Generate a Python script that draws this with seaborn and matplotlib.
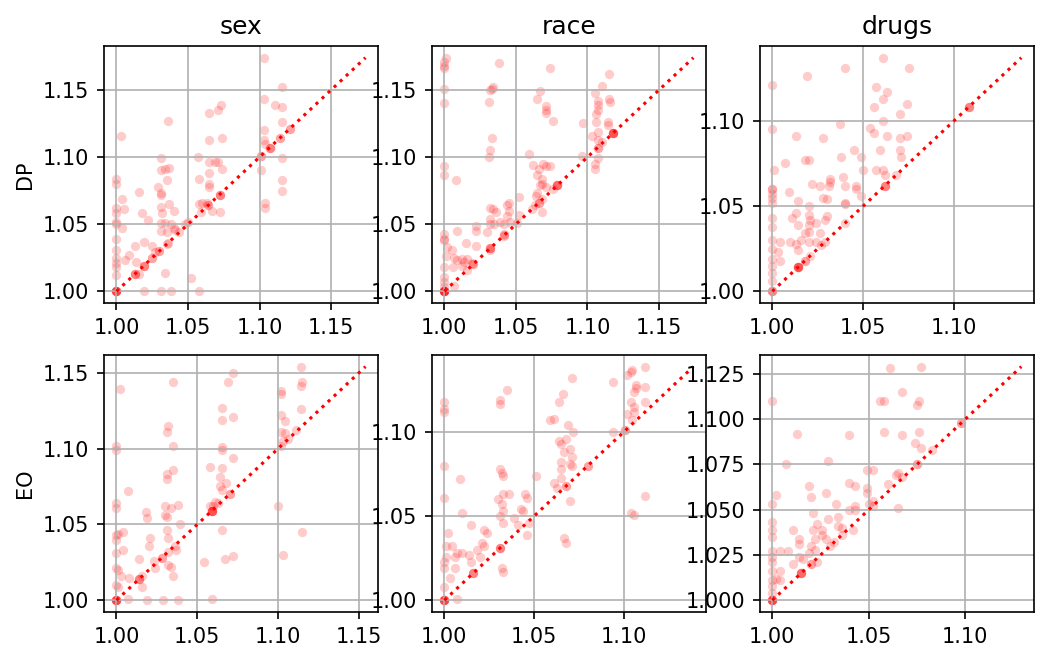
import matplotlib
matplotlib.use('Agg')
import matplotlib.pyplot as plt
from matplotlib.ticker import MultipleLocator
import seaborn as sns

cols = ['sex', 'race', 'drugs']
rows = ['DP', 'EO']

# ---- DP / sex
sex_dp_x = [1.103, 1.116, 1.103, 1.111, 1.116, 1.073, 1.071, 1.065, 1.036, 1.003, 1.065, 1.074, 1.103, 1.116,
            1.103, 1.104, 1.116, 1.101, 1.116, 1.116, 1.104, 1.104, 1.031, 1.031, 1.034, 1.037, 1.035, 1.029,
            1.031, 1.031, 1.016, 1.004, 1.0, 1.0, 1.0, 1.0, 1.0, 1.0, 1.0, 1.0, 1.0, 1.0, 1.0, 1.0,
            1.005, 1.004, 1.057, 1.065, 1.069, 1.071, 1.074, 1.065, 1.058, 1.065, 1.065, 1.072, 1.067, 1.060,
            1.058, 1.052, 1.058, 1.019, 1.031, 1.038, 1.034, 1.040, 1.037, 1.031, 1.032, 1.031, 1.034, 1.018,
            1.022, 1.038, 1.040, 1.031, 1.035, 1.019, 1.013, 1.025, 1.009, 1.006, 1.014, 1.016, 1.050, 1.048,
            1.041, 1.027, 1.035, 1.063,
            1.0, 1.0, 1.0, 1.0, 1.0, 1.0, 1.013, 1.013, 1.013, 1.019, 1.019, 1.019, 1.025, 1.025, 1.030, 1.030,
            1.036, 1.044, 1.059, 1.064, 1.064, 1.072, 1.072, 1.072, 1.101, 1.101, 1.107, 1.107, 1.107,
            1.114, 1.114, 1.121, 1.121]
sex_dp_y = [1.174, 1.152, 1.143, 1.139, 1.137, 1.139, 1.135, 1.133, 1.127, 1.116, 1.113, 1.114, 1.120, 1.126,
            1.113, 1.110, 1.099, 1.090, 1.083, 1.075, 1.066, 1.062, 1.099, 1.090, 1.091, 1.092, 1.083, 1.078,
            1.073, 1.072, 1.074, 1.069, 1.084, 1.080, 1.062, 1.058, 1.052, 1.050, 1.039, 1.031, 1.025, 1.021, 1.018, 1.012,
            1.061, 1.047, 1.100, 1.096, 1.096, 1.096, 1.091, 1.088, 1.084, 1.080, 1.078, 1.059, 1.060, 1.066,
            1.065, 1.010, 1.000, 1.000, 1.000, 1.000, 1.014, 1.060, 1.065, 1.063, 1.058, 1.051, 1.051, 1.058,
            1.053, 1.050, 1.047, 1.045, 1.044, 1.037, 1.034, 1.034, 1.027, 1.023, 1.022, 1.013, 1.052, 1.050,
            1.046, 1.029, 1.035, 1.066,
            1.0, 1.0, 1.0, 1.0, 1.0, 1.0, 1.013, 1.013, 1.013, 1.019, 1.019, 1.019, 1.025, 1.025, 1.030, 1.030,
            1.036, 1.044, 1.059, 1.064, 1.064, 1.072, 1.072, 1.072, 1.101, 1.101, 1.107, 1.107, 1.107,
            1.114, 1.114, 1.121, 1.121]

# ---- DP / race
race_dp_x = [1.001, 1.0, 1.0, 1.0, 1.038, 1.074, 1.115, 1.110, 1.0, 1.0, 1.033, 1.034, 1.032, 1.031,
             1.067, 1.065, 1.071, 1.071, 1.071, 1.076, 1.105, 1.107, 1.107, 1.107, 1.106, 1.106, 1.115, 1.116,
             1.097, 1.114, 1.114, 1.107, 1.103, 1.107, 1.110, 1.107, 1.105, 1.105, 1.096, 1.033, 1.032, 1.031,
             1.0, 1.0, 1.008, 1.059, 1.062, 1.069, 1.071, 1.074, 1.066, 1.065, 1.068, 1.067, 1.068, 1.071,
             1.065, 1.064, 1.068, 1.063, 1.068, 1.052, 1.045, 1.044, 1.045, 1.044, 1.046, 1.032, 1.034, 1.036,
             1.032, 1.032, 1.035, 1.039, 1.042, 1.052, 1.022, 1.022, 1.030, 1.009, 1.015, 1.022,
             1.0, 1.0, 1.0, 1.0, 1.0, 1.0, 1.0, 1.002, 1.005, 1.001, 1.007, 1.012, 1.016, 1.006, 1.012, 1.007,
             1.032, 1.042, 1.042, 1.009, 1.014, 1.019,
             1.0, 1.0, 1.0, 1.0, 1.0, 1.0, 1.0, 1.0, 1.016, 1.020, 1.020, 1.032, 1.032, 1.032, 1.042, 1.051,
             1.061, 1.066, 1.066, 1.076, 1.079, 1.079, 1.079, 1.079, 1.107, 1.107,
             1.118, 1.118, 1.118, 1.118, 1.118]
race_dp_y = [1.174, 1.171, 1.168, 1.166, 1.170, 1.166, 1.162, 1.153, 1.151, 1.140, 1.151, 1.152, 1.150, 1.141,
             1.149, 1.143, 1.138, 1.135, 1.133, 1.127, 1.148, 1.142, 1.139, 1.135, 1.132, 1.126, 1.143, 1.141,
             1.125, 1.126, 1.124, 1.119, 1.116, 1.113, 1.111, 1.099, 1.095, 1.091, 1.101, 1.114, 1.105, 1.100,
             1.093, 1.087, 1.083, 1.102, 1.094, 1.095, 1.093, 1.093, 1.091, 1.087, 1.084, 1.079, 1.080, 1.078,
             1.073, 1.071, 1.069, 1.064, 1.059, 1.070, 1.066, 1.064, 1.060, 1.056, 1.052, 1.062, 1.061, 1.059,
             1.054, 1.050, 1.050, 1.052, 1.050, 1.057, 1.049, 1.045, 1.044, 1.045, 1.036, 1.034,
             1.043, 1.039, 1.038, 1.018, 1.011, 1.007, 1.003, 1.033, 1.031, 1.026, 1.025, 1.024, 1.024, 1.018, 1.019, 1.004,
             1.031, 1.043, 1.041, 1.023, 1.022, 1.021,
             1.0, 1.0, 1.0, 1.0, 1.0, 1.0, 1.0, 1.0, 1.016, 1.020, 1.020, 1.032, 1.032, 1.032, 1.042, 1.051,
             1.061, 1.066, 1.066, 1.076, 1.079, 1.079, 1.079, 1.079, 1.107, 1.107,
             1.118, 1.118, 1.118, 1.118, 1.118]

# ---- DP / drugs
drugs_dp_x = [1.061, 1.040, 1.075, 1.019, 1.0, 1.057, 1.063, 1.061, 1.056, 1.074, 1.070, 1.061, 1.037, 1.054,
              1.056, 1.063, 1.070, 1.074, 1.013, 1.028, 1.0, 1.045, 1.049, 1.059, 1.070, 1.071, 1.018, 1.020,
              1.038, 1.007, 1.001, 1.050, 1.057, 1.061, 1.062, 1.039, 1.032, 1.032, 1.022, 1.026, 1.031, 1.040,
              1.046, 1.046, 1.049, 1.009, 1.028, 1.030, 1.014,
              1.0, 1.0, 1.0, 1.0, 1.0, 1.0, 1.0, 1.0, 1.0, 1.0, 1.0, 1.0, 1.0,
              1.040, 1.040, 1.020, 1.013, 1.020, 1.030, 1.029, 1.021, 1.024, 1.020, 1.014, 1.011, 1.004, 1.003,
              1.004, 1.010, 1.014, 1.013, 1.016, 1.018, 1.020, 1.026, 1.020, 1.024,
              1.0, 1.0, 1.0, 1.014, 1.014, 1.014, 1.014, 1.014, 1.018, 1.018, 1.021, 1.027, 1.029, 1.040,
              1.062, 1.062, 1.062, 1.068, 1.108, 1.108, 1.108]
drugs_dp_y = [1.137, 1.131, 1.131, 1.126, 1.121, 1.120, 1.117, 1.113, 1.108, 1.110, 1.104, 1.100, 1.098, 1.096,
              1.093, 1.091, 1.090, 1.091, 1.091, 1.090, 1.095, 1.083, 1.079, 1.083, 1.083, 1.079, 1.077, 1.077,
              1.079, 1.075, 1.071, 1.071, 1.071, 1.071, 1.068, 1.067, 1.066, 1.064, 1.063, 1.062, 1.062, 1.062,
              1.062, 1.060, 1.056, 1.058, 1.055, 1.054, 1.053,
              1.060, 1.060, 1.057, 1.055, 1.052, 1.043, 1.038, 1.030, 1.025, 1.019, 1.015, 1.011, 1.006,
              1.052, 1.051, 1.050, 1.046, 1.045, 1.044, 1.042, 1.042, 1.040, 1.039, 1.039, 1.043, 1.029, 1.023,
              1.018, 1.029, 1.024, 1.028, 1.030, 1.034, 1.035, 1.034, 1.029, 1.029,
              1.0, 1.0, 1.0, 1.014, 1.014, 1.014, 1.014, 1.014, 1.018, 1.018, 1.021, 1.027, 1.029, 1.040,
              1.062, 1.062, 1.062, 1.068, 1.108, 1.108, 1.108]

# ---- EO / sex
sex_eo_x = [1.114, 1.072, 1.115, 1.114, 1.069, 1.035, 1.002, 1.102, 1.102, 1.114, 1.065, 1.065, 1.072, 1.102,
            1.104, 1.102, 1.104, 1.103, 1.111, 1.032, 1.031, 1.035, 1.0, 1.0, 1.065, 1.065, 1.072, 1.058,
            1.065, 1.064, 1.068, 1.064, 1.065, 1.035, 1.031, 1.031, 1.007, 1.0, 1.0, 1.100, 1.030, 1.034,
            1.038, 1.030, 1.031, 1.018, 1.019, 1.065, 1.115, 1.039, 1.031, 1.032, 1.021, 1.020, 1.037, 1.0,
            1.001, 1.0, 1.004, 1.004, 1.0, 1.014, 1.023, 1.032, 1.034, 1.035, 1.024, 1.072, 1.067, 1.103,
            1.054, 1.0, 1.001, 1.003, 1.0, 1.001, 1.008, 1.016, 1.007, 1.019, 1.029, 1.038, 1.059,
            1.060, 1.061, 1.063, 1.058,
            1.0, 1.0, 1.0, 1.0, 1.0, 1.0, 1.014, 1.014, 1.014, 1.016, 1.028, 1.028, 1.032, 1.036,
            1.059, 1.059, 1.059, 1.059, 1.059, 1.070, 1.070, 1.102, 1.106]
sex_eo_y = [1.154, 1.150, 1.144, 1.141, 1.144, 1.144, 1.139, 1.138, 1.136, 1.126, 1.127, 1.119, 1.121, 1.122,
            1.118, 1.111, 1.110, 1.105, 1.112, 1.115, 1.111, 1.102, 1.102, 1.099, 1.101, 1.099, 1.094, 1.088,
            1.087, 1.081, 1.077, 1.075, 1.073, 1.086, 1.083, 1.080, 1.072, 1.064, 1.061, 1.062, 1.062, 1.061,
            1.063, 1.056, 1.055, 1.058, 1.054, 1.046, 1.045, 1.050, 1.046, 1.041, 1.041, 1.036, 1.033, 1.043,
            1.044, 1.040, 1.045, 1.033, 1.031, 1.027, 1.026, 1.023, 1.022, 1.016, 1.021, 1.029, 1.027, 1.030,
            1.025, 1.021, 1.020, 1.016, 1.010, 1.009, 1.015, 1.009, 1.001, 1.000, 1.000, 1.000, 1.001,
            1.062, 1.065, 1.064, 1.062,
            1.0, 1.0, 1.0, 1.0, 1.0, 1.0, 1.014, 1.014, 1.014, 1.016, 1.028, 1.028, 1.032, 1.036,
            1.059, 1.059, 1.059, 1.059, 1.059, 1.070, 1.070, 1.102, 1.106]

# ---- EO / race
race_eo_x = [1.112, 1.105, 1.104, 1.102, 1.071, 1.094, 1.107, 1.112, 1.106, 1.107, 1.035, 1.066, 1.064, 1.0,
             1.0, 1.0, 1.031, 1.031, 1.104, 1.112, 1.106, 1.102, 1.106, 1.105, 1.059, 1.061, 1.069, 1.094,
             1.072, 1.068, 1.064, 1.065, 1.070, 1.067, 1.071, 1.070, 1.071, 1.065, 1.065, 1.065, 1.0, 1.031,
             1.032, 1.033, 1.009, 1.051, 1.061, 1.063, 1.070, 1.0, 1.112, 1.104, 1.106, 1.010, 1.030, 1.033,
             1.036, 1.045, 1.046, 1.032, 1.033, 1.031, 1.033, 1.043, 1.039, 1.041, 1.046, 1.047, 1.044, 1.015,
             1.022, 1.024, 1.002, 1.021, 1.022, 1.067, 1.068, 1.001, 1.004, 1.001, 1.006, 1.0, 1.007, 1.010,
             1.014, 1.018, 1.020, 1.015, 1.006, 1.0, 1.003, 1.0, 1.007, 1.032, 1.033,
             1.0, 1.0, 1.0, 1.0, 1.0, 1.0, 1.016, 1.016, 1.016, 1.031, 1.031, 1.031, 1.068, 1.068,
             1.080, 1.080, 1.101, 1.101]
race_eo_y = [1.139, 1.137, 1.136, 1.134, 1.132, 1.130, 1.128, 1.127, 1.124, 1.126, 1.125, 1.123, 1.118, 1.118,
             1.114, 1.112, 1.119, 1.117, 1.118, 1.118, 1.115, 1.111, 1.112, 1.107, 1.107, 1.108, 1.104, 1.100,
             1.100, 1.096, 1.095, 1.093, 1.090, 1.088, 1.085, 1.081, 1.080, 1.082, 1.078, 1.073, 1.080, 1.078,
             1.076, 1.074, 1.072, 1.074, 1.070, 1.067, 1.059, 1.061, 1.062, 1.052, 1.051, 1.052, 1.060, 1.063,
             1.063, 1.063, 1.061, 1.057, 1.053, 1.050, 1.046, 1.054, 1.049, 1.045, 1.039, 1.046, 1.053, 1.045,
             1.042, 1.040, 1.040, 1.034, 1.032, 1.037, 1.034, 1.032, 1.032, 1.026, 1.026, 1.023, 1.028, 1.028,
             1.027, 1.030, 1.026, 1.023, 1.019, 1.019, 1.013, 1.008, 1.001, 1.019, 1.017,
             1.0, 1.0, 1.0, 1.0, 1.0, 1.0, 1.016, 1.016, 1.016, 1.031, 1.031, 1.031, 1.068, 1.068,
             1.080, 1.080, 1.101, 1.101]

# ---- EO / drugs
drugs_eo_x = [1.061, 1.077, 1.067, 1.056, 1.058, 1.076, 1.075, 1.0, 1.013, 1.040, 1.058, 1.067, 1.076, 1.074,
              1.077, 1.029, 1.007, 1.049, 1.052, 1.040, 1.019, 1.043, 1.049, 1.049, 1.028, 1.060, 1.064, 1.065,
              1.067, 1.002,
              1.0, 1.0, 1.0, 1.0, 1.0, 1.0, 1.0, 1.0, 1.0, 1.0, 1.0,
              1.020, 1.021, 1.033, 1.040, 1.043, 1.043, 1.052, 1.052, 1.050, 1.065, 1.029, 1.034, 1.034, 1.036,
              1.021, 1.011, 1.023, 1.026, 1.042, 1.022, 1.014, 1.026, 1.028, 1.020, 1.011, 1.008, 1.004, 1.014,
              1.016, 1.019, 1.023, 1.022, 1.014, 1.004, 1.002, 1.004,
              1.0, 1.0, 1.0, 1.0, 1.0, 1.0, 1.015, 1.015, 1.015, 1.015, 1.020, 1.020, 1.030, 1.032, 1.036,
              1.075, 1.075, 1.083, 1.098, 1.098]
drugs_eo_y = [1.128, 1.129, 1.115, 1.110, 1.110, 1.110, 1.108, 1.110, 1.092, 1.091, 1.093, 1.091, 1.093, 1.087,
              1.084, 1.077, 1.075, 1.072, 1.072, 1.065, 1.063, 1.063, 1.062, 1.059, 1.059, 1.064, 1.069, 1.070,
              1.068, 1.058,
              1.053, 1.043, 1.039, 1.035, 1.027, 1.024, 1.021, 1.016, 1.011, 1.008, 1.004,
              1.057, 1.048, 1.053, 1.050, 1.052, 1.050, 1.055, 1.052, 1.053, 1.051, 1.045, 1.046, 1.041, 1.040,
              1.039, 1.039, 1.042, 1.039, 1.039, 1.034, 1.034, 1.036, 1.034, 1.030, 1.020, 1.027, 1.027, 1.031,
              1.023, 1.026, 1.021, 1.028, 1.024, 1.016, 1.012, 1.011,
              1.0, 1.0, 1.0, 1.0, 1.0, 1.0, 1.015, 1.015, 1.015, 1.015, 1.020, 1.020, 1.030, 1.032, 1.036,
              1.075, 1.075, 1.083, 1.098, 1.098]

data = [[(sex_dp_x, sex_dp_y), (race_dp_x, race_dp_y), (drugs_dp_x, drugs_dp_y)],
        [(sex_eo_x, sex_eo_y), (race_eo_x, race_eo_y), (drugs_eo_x, drugs_eo_y)]]

DPI = 150
fig, axes = plt.subplots(2, 3, figsize=(1057 / DPI, 663 / DPI), dpi=DPI)
plt.subplots_adjust(left=0.0984, right=0.978, top=0.9306, bottom=0.077, wspace=0.197, hspace=0.202)

for i in range(2):
    for j in range(3):
        ax = axes[i, j]
        xs, ys = data[i][j]
        ax.grid(True)
        sns.scatterplot(x=xs, y=ys, ax=ax, color='red', alpha=0.2, s=20, linewidth=0)
        lo = min(min(xs), min(ys))
        hi = max(max(xs), max(ys))
        ax.plot([lo, hi], [lo, hi], 'r:')
        ax.xaxis.set_major_locator(MultipleLocator(0.05))
        if i == 1 and j == 2:
            ax.yaxis.set_major_locator(MultipleLocator(0.025))
        else:
            ax.yaxis.set_major_locator(MultipleLocator(0.05))
        if i == 0:
            ax.set_title(cols[j])
        if j == 0:
            ax.set_ylabel(rows[i])

plt.savefig('out.png', dpi=DPI)
